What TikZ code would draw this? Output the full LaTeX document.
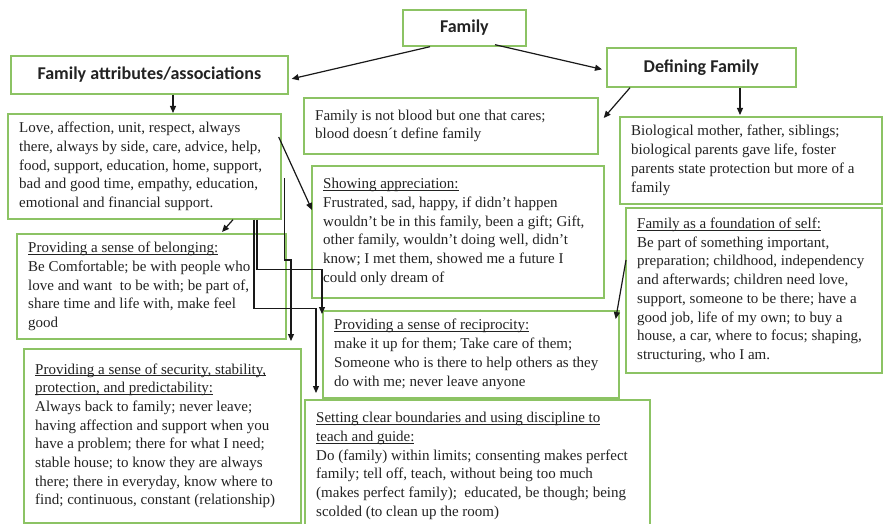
\documentclass[tikz,border=0pt]{standalone}
\usepackage{fontspec}
\setmainfont{Liberation Serif}
\newfontfamily\hdrfont{Carlito}
\usetikzlibrary{arrows.meta,calc}
\definecolor{boxgreen}{RGB}{140,195,100}
\definecolor{inkc}{RGB}{35,35,35}
\newcommand\myul[1]{\setbox0\hbox{#1}\rlap{\rule[-2.3pt]{\wd0}{0.9pt}}\box0}
\begin{document}
\begin{tikzpicture}[x=1pt,y=-1pt,
  box/.style={draw=boxgreen,line width=1.7pt,fill=white,anchor=north west,inner sep=0pt},
  hdr/.style={box,font=\hdrfont\bfseries\fontsize{18}{21}\selectfont,text=inkc},
  txt/.style={anchor=west,inner sep=0pt,align=left,font=\fontsize{15}{18.7}\selectfont,text=inkc},
  arr/.style={draw=black!90,line width=1.2pt,-{Triangle[length=7pt,width=6pt]}}]
\fill[white] (0,0) rectangle (883,524);
\useasboundingbox (0,0) rectangle (883,524);

% header boxes
\node[hdr,minimum width=123pt,minimum height=36pt] (family) at (402,9) {Family};
\node[hdr,minimum width=189pt,minimum height=39pt] (deffam) at (606,47) {Defining Family};
\node[hdr,minimum width=277pt,minimum height=38pt] (attr) at (10,55) {Family attributes/associations};

% content boxes
\node[box,minimum width=273pt,minimum height=105pt] (love) at (7,113) {};
\node[box,minimum width=294pt,minimum height=56pt] (notblood) at (303,97) {};
\node[box,minimum width=262pt,minimum height=87pt] (bio) at (619,116) {};
\node[box,minimum width=256pt,minimum height=165pt] (found) at (625,207) {};
\node[box,minimum width=292pt,minimum height=132pt] (show) at (311,165) {};
\node[box,minimum width=269pt,minimum height=105pt] (belong) at (16,233) {};
\node[box,minimum width=296pt,minimum height=87pt] (recip) at (322,310) {};
\node[box,minimum width=277pt,minimum height=174pt] (sec) at (23,348) {};
\node[box,minimum width=345pt,minimum height=132pt] (bound) at (304,399) {};

% texts
\node[txt] (lovet) at ([xshift=12pt]love.west) {Love, affection, unit, respect, always\\
there, always by side, care, advice, help,\\
food, support, education, home, support,\\
bad and good time, empathy, education,\\
emotional and financial support.};

\node[txt] (notbloodt) at ([xshift=12pt]notblood.west) {Family is not blood but one that cares;\\
blood doesn´t define family};

\node[txt] (biot) at ([xshift=12pt]bio.west) {Biological mother, father, siblings;\\
biological parents gave life, foster\\
parents state protection but more of a\\
family};

\node[txt] (foundt) at ([xshift=12pt]found.west) {\myul{Family as a foundation of self:}\\
Be part of something important,\\
preparation; childhood, independency\\
and afterwards; children need love,\\
support, someone to be there; have a\\
good job, life of my own; to buy a\\
house, a car, where to focus; shaping,\\
structuring, who I am.};

\node[txt] (showt) at ([xshift=12pt]show.west) {\myul{Showing appreciation:}\\
Frustrated, sad, happy, if didn’t happen\\
wouldn’t be in this family, been a gift; Gift,\\
other family, wouldn’t doing well, didn’t\\
know; I met them, showed me a future I\\
could only dream of};

\node[txt] (belongt) at ([xshift=12pt]belong.west) {\myul{Providing a sense of belonging:}\\
Be Comfortable; be with people who\\
love and want\ \ to be with; be part of,\\
share time and life with, make feel\\
good};

\node[txt] (recipt) at ([xshift=12pt]recip.west) {\myul{Providing a sense of reciprocity:}\\
make it up for them; Take care of them;\\
Someone who is there to help others as they\\
do with me; never leave anyone};

\node[txt] (sect) at ([xshift=12pt]sec.west) {\myul{Providing a sense of security, stability,}\\
\myul{protection, and predictability:}\\
Always back to family; never leave;\\
having affection and support when you\\
have a problem; there for what I need;\\
stable house; to know they are always\\
there; there in everyday, know where to\\
find; continuous, constant (relationship)};

\node[txt] (boundt) at ([xshift=12pt]bound.west) {\myul{Setting clear boundaries and using discipline to}\\
\myul{teach and guide:}\\
Do (family) within limits; consenting makes perfect\\
family; tell off, teach, without being too much\\
(makes perfect family);\ \ educated, be though; being\\
scolded (to clean up the room)};

% connectors
\draw[arr] ($(family.south west)+(28,0)$) -- ($(attr.east)+(3,4)$);
\draw[arr] ($(family.south west)+(93,-2)$) -- ($(deffam.west)+(-4,2)$);
\draw[arr] ($(attr.south west)+(163,0)$) -- ($(love.north west)+(166,0)$);
\draw[arr] ($(deffam.south west)+(24,0)$) -- ($(notblood.north east)+(5,21)$);
\draw[arr] ($(deffam.south west)+(134,0)$) -- ($(bio.north west)+(121,-1)$);
\draw[arr] ($(love.north east)+(-3,24)$) -- ($(show.north west)+(1,45)$);
\draw[arr] ($(love.south west)+(226,0)$) -- ($(belong.north west)+(206,-1)$);
\draw[arr] ($(love.north east)+(3,65)$) -- ++(0,82) -| ($(sec.north west)+(268,-7)$);
\draw[arr] ($(love.south west)+(250,0)$) -- ++(0,50) -| ($(recip.north west)+(0,4)$);
\draw[arr] ($(love.south west)+(247,0)$) -- ++(0,89) -| ($(bound.north west)+(12,-6)$);
\draw[arr] ($(found.north west)+(1,53)$) -- ($(recip.north east)+(-4,9)$);
\end{tikzpicture}
\end{document}
